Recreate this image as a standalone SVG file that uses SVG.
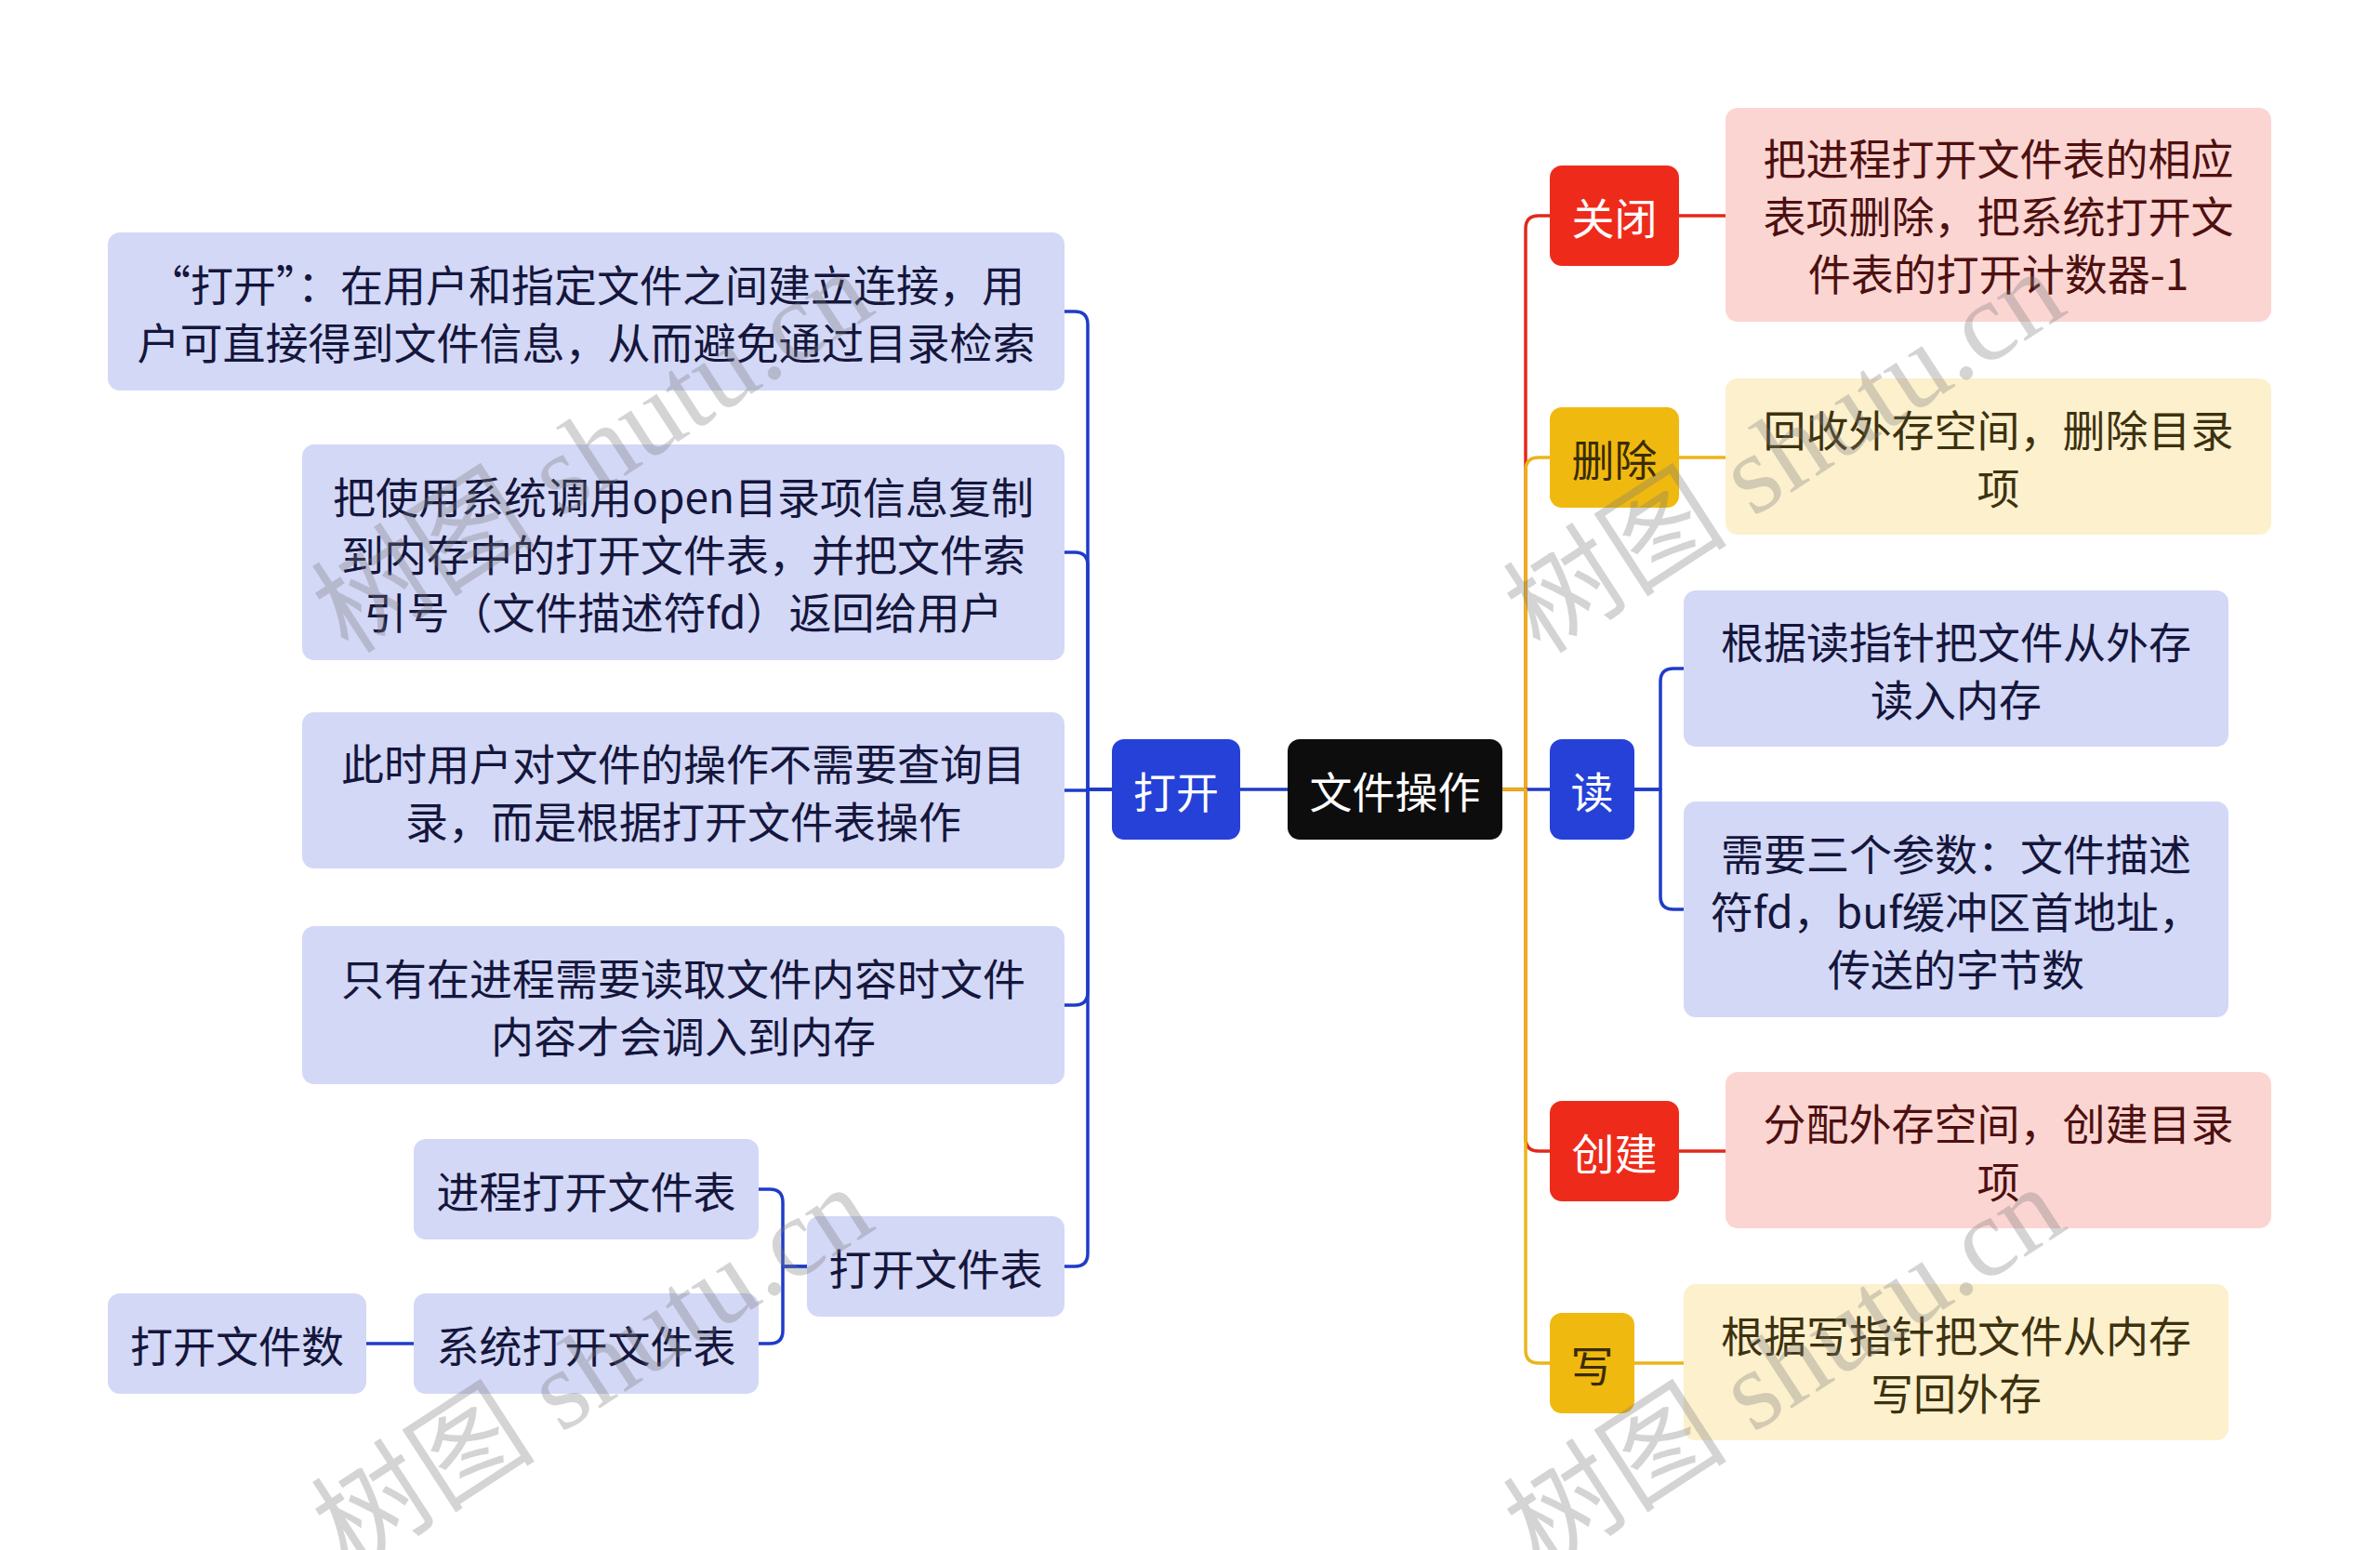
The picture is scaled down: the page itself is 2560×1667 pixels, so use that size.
<svg xmlns="http://www.w3.org/2000/svg" width="2560" height="1667" viewBox="0 0 2560 1667">
<style>
text{font-family:"Noto Sans CJK SC","Noto Sans",sans-serif;font-size:46px;text-anchor:middle;dominant-baseline:central}
.root rect{fill:#0d0d0d}.root text{fill:#ffffff}
.blue rect{fill:#2541d8}.blue text{fill:#ffffff}
.red rect{fill:#ee2b1b}.red text{fill:#ffffff}
.yel rect{fill:#f0b90f}.yel text{fill:#3a2c06}
.lb rect{fill:#d3d8f6}.lb text{fill:#15163c}
.pk rect{fill:#fbd5d2}.pk text{fill:#4d1010}
.ly rect{fill:#fcf0cd}.ly text{fill:#3d3210}
.c{fill:none;stroke-width:3.5;stroke-linecap:round;stroke-linejoin:round}
.cb{stroke:#1f3cc8}.cr{stroke:#e2281c}.cy{stroke:#ebb51a}
.wm{font-family:"Liberation Serif","Noto Sans CJK SC",serif;font-size:121px;fill:#7a7a7a;fill-opacity:0.32;text-anchor:start;dominant-baseline:alphabetic}
</style>
<rect width="2560" height="1667" fill="#ffffff"/>
<g id="connectors">
<path class="c cb" d="M1196,849 H1170 V349 Q1170,335 1156,335 H1145"/>
<path class="c cb" d="M1196,849 H1170 V608 Q1170,594 1156,594 H1145"/>
<path class="c cb" d="M1196,849 H1170 V850 H1145"/>
<path class="c cb" d="M1196,849 H1170 V1067 Q1170,1081 1156,1081 H1145"/>
<path class="c cb" d="M1196,849 H1170 V1348 Q1170,1362 1156,1362 H1145"/>
<path class="c cb" d="M868,1362 H842 V1293 Q842,1279 828,1279 H816"/>
<path class="c cb" d="M868,1362 H842 V1431 Q842,1445 828,1445 H816"/>
<path class="c cb" d="M445,1445 H394"/>
<path class="c cb" d="M1385,849 H1334"/>
<path class="c cr" d="M1616,849 H1641 V246 Q1641,232 1655,232 H1667"/>
<path class="c cr" d="M1806,232 H1856"/>
<path class="c cy" d="M1616,849 H1641 V506 Q1641,492 1655,492 H1667"/>
<path class="c cy" d="M1806,492 H1856"/>
<path class="c cb" d="M1616,849 H1667"/>
<path class="c cb" d="M1758,849 H1786 V733 Q1786,719 1800,719 H1811"/>
<path class="c cb" d="M1758,849 H1786 V964 Q1786,978 1800,978 H1811"/>
<path class="c cr" d="M1616,849 H1641 V1224 Q1641,1238 1655,1238 H1667"/>
<path class="c cr" d="M1806,1238 H1856"/>
<path class="c cy" d="M1616,849 H1641 V1452 Q1641,1466 1655,1466 H1667"/>
<path class="c cy" d="M1758,1466 H1811"/>
</g>
<g id="root" class="root"><rect x="1385" y="795" width="231" height="108" rx="13"/><text x="1500.5" y="849">文件操作</text></g>
<g id="open" class="blue"><rect x="1196" y="795" width="138" height="108" rx="13"/><text x="1265" y="849">打开</text></g>
<g id="open-d1" class="lb"><rect x="116" y="250" width="1029" height="170" rx="13"/><text x="630.5" y="335"><tspan x="630.5" dy="-31">“打开”：在用户和指定文件之间建立连接，用</tspan><tspan x="630.5" dy="62">户可直接得到文件信息，从而避免通过目录检索</tspan></text></g>
<g id="open-d2" class="lb"><rect x="325" y="478" width="820" height="232" rx="13"/><text x="735" y="594"><tspan x="735" dy="-62">把使用系统调用open目录项信息复制</tspan><tspan x="735" dy="62">到内存中的打开文件表，并把文件索</tspan><tspan x="735" dy="62">引号（文件描述符fd）返回给用户</tspan></text></g>
<g id="open-d3" class="lb"><rect x="325" y="766" width="820" height="168" rx="13"/><text x="735" y="850"><tspan x="735" dy="-31">此时用户对文件的操作不需要查询目</tspan><tspan x="735" dy="62">录，而是根据打开文件表操作</tspan></text></g>
<g id="open-d4" class="lb"><rect x="325" y="996" width="820" height="170" rx="13"/><text x="735" y="1081"><tspan x="735" dy="-31">只有在进程需要读取文件内容时文件</tspan><tspan x="735" dy="62">内容才会调入到内存</tspan></text></g>
<g id="oft" class="lb"><rect x="868" y="1308" width="277" height="108" rx="13"/><text x="1006.5" y="1362">打开文件表</text></g>
<g id="poft" class="lb"><rect x="445" y="1225" width="371" height="108" rx="13"/><text x="630.5" y="1279">进程打开文件表</text></g>
<g id="soft" class="lb"><rect x="445" y="1391" width="371" height="108" rx="13"/><text x="630.5" y="1445">系统打开文件表</text></g>
<g id="ofc" class="lb"><rect x="116" y="1391" width="278" height="108" rx="13"/><text x="255" y="1445">打开文件数</text></g>
<g id="close" class="red"><rect x="1667" y="178" width="139" height="108" rx="13"/><text x="1736.5" y="232">关闭</text></g>
<g id="close-d" class="pk"><rect x="1856" y="116" width="587" height="230" rx="13"/><text x="2149.5" y="230"><tspan x="2149.5" dy="-62">把进程打开文件表的相应</tspan><tspan x="2149.5" dy="62">表项删除，把系统打开文</tspan><tspan x="2149.5" dy="62">件表的打开计数器-1</tspan></text></g>
<g id="delete" class="yel"><rect x="1667" y="438" width="139" height="108" rx="13"/><text x="1736.5" y="492">删除</text></g>
<g id="delete-d" class="ly"><rect x="1856" y="407" width="587" height="168" rx="13"/><text x="2149.5" y="491"><tspan x="2149.5" dy="-31">回收外存空间，删除目录</tspan><tspan x="2149.5" dy="62">项</tspan></text></g>
<g id="read" class="blue"><rect x="1667" y="795" width="91" height="108" rx="13"/><text x="1712.5" y="849">读</text></g>
<g id="read-d1" class="lb"><rect x="1811" y="635" width="586" height="168" rx="13"/><text x="2104" y="719"><tspan x="2104" dy="-31">根据读指针把文件从外存</tspan><tspan x="2104" dy="62">读入内存</tspan></text></g>
<g id="read-d2" class="lb"><rect x="1811" y="862" width="586" height="232" rx="13"/><text x="2104" y="978"><tspan x="2104" dy="-62">需要三个参数：文件描述</tspan><tspan x="2104" dy="62">符fd，buf缓冲区首地址，</tspan><tspan x="2104" dy="62">传送的字节数</tspan></text></g>
<g id="create" class="red"><rect x="1667" y="1184" width="139" height="108" rx="13"/><text x="1736.5" y="1238">创建</text></g>
<g id="create-d" class="pk"><rect x="1856" y="1153" width="587" height="168" rx="13"/><text x="2149.5" y="1237"><tspan x="2149.5" dy="-31">分配外存空间，创建目录</tspan><tspan x="2149.5" dy="62">项</tspan></text></g>
<g id="write" class="yel"><rect x="1667" y="1412" width="91" height="108" rx="13"/><text x="1712.5" y="1466">写</text></g>
<g id="write-d" class="ly"><rect x="1811" y="1381" width="586" height="168" rx="13"/><text x="2104" y="1465"><tspan x="2104" dy="-31">根据写指针把文件从内存</tspan><tspan x="2104" dy="62">写回外存</tspan></text></g>
<g id="watermarks">
<text class="wm" transform="translate(375,705) rotate(-33)">树图 shutu.cn</text>
<text class="wm" transform="translate(1657,705) rotate(-33)">树图 shutu.cn</text>
<text class="wm" transform="translate(375,1690) rotate(-33)">树图 shutu.cn</text>
<text class="wm" transform="translate(1657,1690) rotate(-33)">树图 shutu.cn</text>
</g>
</svg>
